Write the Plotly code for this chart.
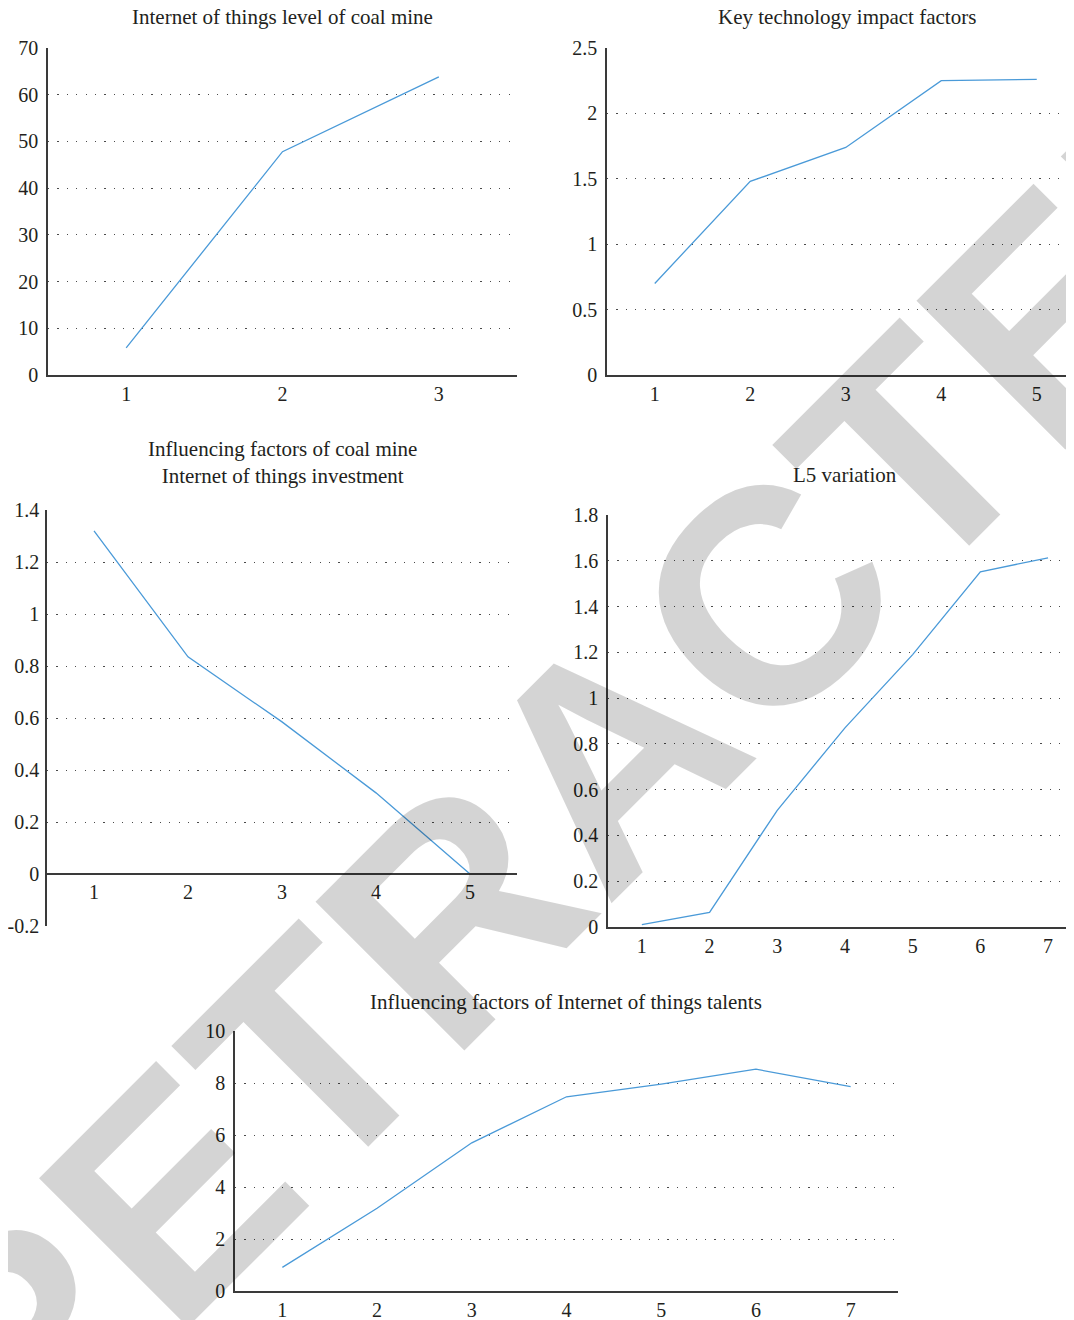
import plotly.graph_objects as go

# ---------------- data ----------------
p1_x = [1, 2, 3]
p1_y = [5.8, 47.8, 63.8]
p1_yticks = [0, 10, 20, 30, 40, 50, 60, 70]
p1_ytext = ["0", "10", "20", "30", "40", "50", "60", "70"]

p2_x = [1, 2, 3, 4, 5]
p2_y = [0.70, 1.48, 1.74, 2.25, 2.26]
p2_yticks = [0, 0.5, 1, 1.5, 2, 2.5]
p2_ytext = ["0", "0.5", "1", "1.5", "2", "2.5"]

p3_x = [1, 2, 3, 4, 5]
p3_y = [1.32, 0.835, 0.585, 0.312, 0.0]
p3_yticks = [-0.2, 0, 0.2, 0.4, 0.6, 0.8, 1.0, 1.2, 1.4]
p3_ytext = ["-0.2", "0", "0.2", "0.4", "0.6", "0.8", "1", "1.2", "1.4"]

p4_x = [1, 2, 3, 4, 5, 6, 7]
p4_y = [0.01, 0.064, 0.51, 0.87, 1.19, 1.552, 1.613]
p4_yticks = [0, 0.2, 0.4, 0.6, 0.8, 1.0, 1.2, 1.4, 1.6, 1.8]
p4_ytext = ["0", "0.2", "0.4", "0.6", "0.8", "1", "1.2", "1.4", "1.6", "1.8"]

p5_x = [1, 2, 3, 4, 5, 6, 7]
p5_y = [0.91, 3.18, 5.70, 7.47, 7.96, 8.53, 7.86]
p5_yticks = [0, 2, 4, 6, 8, 10]
p5_ytext = ["0", "2", "4", "6", "8", "10"]

titles = [
    "Internet of things level of coal mine",
    "Key technology impact factors",
    "Influencing factors of coal mine<br>Internet of things investment",
    "L5 variation",
    "Influencing factors of Internet of things talents",
]
watermark = "RETRACTED"

# ---------------- style ----------------
W, H = 1074, 1320
OFF = 8  # page body margin
LINE = "#4a9ad8"
TXT = "#231f20"
AX = "#3a3a3a"
FONT = "Liberation Serif"


def px(x):
    return (x - OFF) / W


def py(y):
    return 1 - (y - OFF) / H


fig = go.Figure()

panels = [
    (p1_x, p1_y),
    (p2_x, p2_y),
    (p3_x, p3_y),
    (p4_x, p4_y),
    (p5_x, p5_y),
]
for i, (xs, ys) in enumerate(panels, start=1):
    fig.add_trace(go.Scatter(
        x=xs, y=ys, mode="lines",
        line=dict(color=LINE, width=1.3),
        xaxis="x" if i == 1 else f"x{i}",
        yaxis="y" if i == 1 else f"y{i}",
        showlegend=False, hoverinfo="skip",
    ))

tickfont = dict(family=FONT, size=20, color=TXT)


def xaxis(domain, rng, n, anchor, line=True, position=None):
    d = dict(
        domain=domain, range=rng, tickvals=list(range(1, n + 1)),
        ticktext=[str(v) for v in range(1, n + 1)],
        showgrid=False, zeroline=False, showline=line, automargin=False,
        linecolor=AX, linewidth=1.5, ticks="",
        tickfont=tickfont, fixedrange=True,
    )
    if position is not None:
        d["anchor"] = "free"
        d["position"] = position
    else:
        d["anchor"] = anchor
    return d


def yaxis(domain, rng, vals, text, anchor, ticklen=4):
    return dict(
        domain=domain, range=rng, anchor=anchor,
        tickvals=vals, ticktext=text, automargin=False,
        showgrid=True, gridcolor="#4a4a4a", gridwidth=1.1,
        griddash="1.2px,8.2px",
        zeroline=False, showline=True, linecolor=AX, linewidth=1.5,
        ticks="outside", ticklen=ticklen, tickcolor="rgba(0,0,0,0)",
        tickfont=tickfont, fixedrange=True,
    )


layout = dict(
    template="none",
    width=W, height=H,
    margin=dict(l=0, r=0, t=0, b=0, pad=0),
    paper_bgcolor="white", plot_bgcolor="rgba(0,0,0,0)",
    showlegend=False,
)

# Panel 1
layout["xaxis"] = xaxis([px(48), px(517)], [0.5, 3.5], 3, "y")
layout["yaxis"] = yaxis([py(375), py(48)], [0, 70], p1_yticks, p1_ytext, "x")
# Panel 2
layout["xaxis2"] = xaxis([px(607), 1.0], [0.5, 0.5 + (W + OFF - 607) / 95.5], 5, "y2")
layout["yaxis2"] = yaxis([py(375), py(48)], [0, 2.5], p2_yticks, p2_ytext, "x2")
# Panel 3 (x axis drawn at y = 0)
layout["xaxis3"] = xaxis([px(47), px(517)], [0.5, 5.5], 5, "y3", position=py(874))
layout["yaxis3"] = yaxis([py(926), py(510)], [-0.2, 1.4], p3_yticks, p3_ytext, "x3",
                         ticklen=2)
# Panel 4
layout["xaxis4"] = xaxis([px(608), 1.0], [0.5, 0.5 + (W + OFF - 608) / 67.7], 7, "y4")
layout["yaxis4"] = yaxis([py(927), py(515)], [0, 1.8], p4_yticks, p4_ytext, "x4")
# Panel 5
layout["xaxis5"] = xaxis([px(235), px(898)], [0.5, 7.5], 7, "y5")
layout["yaxis5"] = yaxis([py(1291), py(1031)], [0, 10], p5_yticks, p5_ytext, "x5")

fig.update_layout(**layout)

title_pos = [(282, 17), (847, 17), (282, 462), (845, 475), (566, 1002)]
annotations = []
for t, (x, y) in zip(titles, title_pos):
    annotations.append(dict(
        text=t, x=px(x), y=py(y), xref="paper", yref="paper",
        xanchor="center", yanchor="middle", showarrow=False,
        font=dict(family=FONT, size=21, color=TXT),
    ))

annotations.append(dict(
    text=watermark, x=px(609), y=py(756), xref="paper", yref="paper",
    xanchor="center", yanchor="middle", showarrow=False, textangle=-45,
    font=dict(family="Liberation Sans", size=306, color="rgba(0,0,0,0.17)",
              weight="bold"),
))
fig.update_layout(annotations=annotations)

fig.write_html("out.html")
